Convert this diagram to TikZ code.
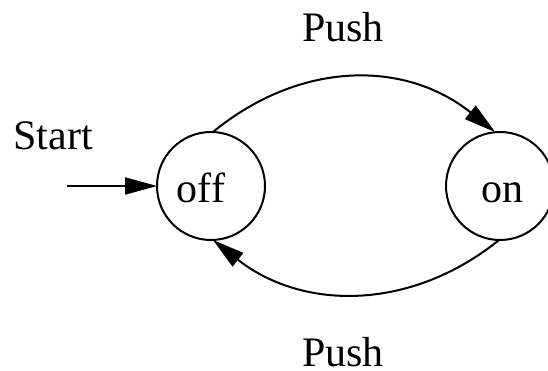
\documentclass[tikz,border=0pt]{standalone}
\usepackage{fontspec}
\setmainfont{Liberation Serif}
\usetikzlibrary{arrows.meta}
\begin{document}
\begin{tikzpicture}[x=1pt,y=-1pt,
  state/.style={draw, circle, line width=2pt, minimum size=108pt, inner sep=0pt, outer sep=0pt},
  lbl/.style={anchor=base, inner sep=0pt, font=\fontsize{42}{50}\selectfont},
  edge/.style={line width=2pt, -{Triangle[length=32pt,width=17pt]}}]
\useasboundingbox (0,0) rectangle (548,371);
\node[state] (off) at (211,186) {};
\node[state] (on) at (500,186) {};
\node[lbl] (offt) at (201,203) {off};
\node[lbl] (ont) at (502,203) {on};
\node[lbl] (start) at (53,150) {Start};
\node[lbl] (push1) at (343,42) {Push};
\node[lbl] (push2) at (343,366) {Push};
\coordinate (s) at (67,186);
\draw[edge] (s) -- (off.west);
\draw[edge] (off.88) .. controls +(88,-72) and +(-90,-72) .. (on.95);
\draw[edge] (on.-91) .. controls +(-88,71) and +(90,71) .. (off.-88);
\end{tikzpicture}
\end{document}
